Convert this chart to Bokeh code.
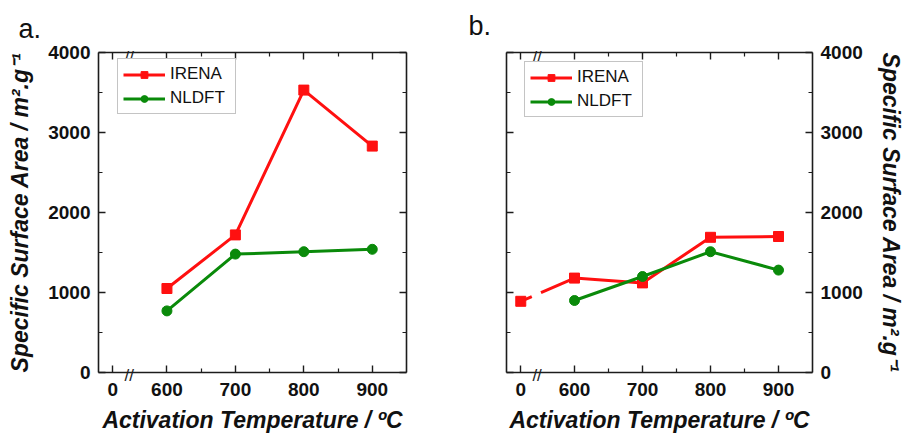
from bokeh.plotting import figure
from bokeh.models import LinearAxis, FixedTicker, Legend, LegendItem, Title, Range1d
from bokeh.layouts import row
from bokeh.embed import file_html
from bokeh.resources import INLINE

# Panel a: specific surface area vs activation temperature
temps_a = [600, 700, 800, 900]
irena_a = [1050, 1720, 3530, 2830]
nldft_a = [770, 1480, 1510, 1540]

# Panel b: includes the non-activated sample (0 °C)
temps_b_irena = [0, 600, 700, 800, 900]
irena_b = [890, 1180, 1120, 1690, 1700]
temps_b_nldft = [600, 700, 800, 900]
nldft_b = [900, 1200, 1510, 1280]

x_tick_values = [0, 600, 700, 800, 900]
x_minor_values = [650, 750, 850]
y_tick_values = [0, 1000, 2000, 3000, 4000]
y_minor_values = [500, 1500, 2500, 3500]

# Axis-break layout: the "0" sample sits left of the break marks
X_START, X_END = 500, 950
ZERO_POS = 521
BREAK_POS = 545

FONT = "Liberation Sans"
RED = "#ff1010"
GREEN = "#0a8a0a"
AXIS_COLOR = "#1c1c1c"
# standoffs that pull the "//" marks onto the axis lines
BREAK_SHIFT = {"below": -7, "above": -14}


def xpos(t):
    return ZERO_POS if t == 0 else t


def line_axis(ticks, minor):
    """Axis line with inward ticks and no labels."""
    ax = LinearAxis(ticker=FixedTicker(ticks=ticks, minor_ticks=minor))
    ax.axis_line_width = 1.6
    ax.axis_line_color = AXIS_COLOR
    ax.major_tick_line_color = AXIS_COLOR
    ax.minor_tick_line_color = AXIS_COLOR
    ax.major_tick_line_width = 1.4
    ax.minor_tick_line_width = 1.2
    ax.major_tick_in = 7
    ax.major_tick_out = 0
    ax.minor_tick_in = 4
    ax.minor_tick_out = 0
    ax.major_label_text_font_size = "0px"
    ax.major_label_text_color = None
    ax.major_label_standoff = 0
    return ax


def label_axis(ticks, standoff, overrides=None, title=None, title_standoff=0):
    """Tick labels (and axis title) only, without line or ticks."""
    ax = LinearAxis(ticker=FixedTicker(ticks=ticks, minor_ticks=[]))
    ax.axis_line_color = None
    ax.major_tick_line_color = None
    ax.minor_tick_line_color = None
    ax.major_tick_in = 0
    ax.major_tick_out = 0
    ax.minor_tick_in = 0
    ax.minor_tick_out = 0
    if overrides:
        ax.major_label_overrides = overrides
    ax.major_label_text_font = FONT
    ax.major_label_text_font_style = "bold"
    ax.major_label_text_font_size = "19px"
    ax.major_label_text_color = "#111111"
    ax.major_label_standoff = standoff
    if title:
        ax.axis_label = title
        ax.axis_label_text_font = FONT
        ax.axis_label_text_font_style = "bold italic"
        ax.axis_label_text_font_size = "23px"
        ax.axis_label_text_color = "#111111"
        ax.axis_label_standoff = title_standoff
    return ax


def break_axis(side):
    """'//' axis-break mark laid over the axis line."""
    ax = LinearAxis(ticker=FixedTicker(ticks=[BREAK_POS], minor_ticks=[]))
    ax.axis_line_color = None
    ax.major_tick_line_color = None
    ax.minor_tick_line_color = None
    ax.major_tick_in = 0
    ax.major_tick_out = 0
    ax.minor_tick_in = 0
    ax.minor_tick_out = 0
    ax.major_label_overrides = {BREAK_POS: "//"}
    ax.major_label_text_font = FONT
    ax.major_label_text_font_style = "normal"
    ax.major_label_text_font_size = "17px"
    ax.major_label_text_color = AXIS_COLOR
    ax.major_label_standoff = BREAK_SHIFT[side]
    return ax


def make_panel(letter, width, borders, title_offset, title_standoff, y_label_side,
               x_label_standoff, x_title_standoff, irena_x, irena_y, nldft_x,
               nldft_y, legend_loc, broken_first):
    left, right, top, bottom = borders
    p = figure(width=width, height=437,
               x_range=Range1d(X_START, X_END), y_range=Range1d(0, 4000),
               output_backend="svg", toolbar_location=None,
               x_axis_location=None, y_axis_location=None,
               min_border_left=left, min_border_right=right,
               min_border_top=top, min_border_bottom=bottom)
    p.outline_line_color = None
    p.xgrid.visible = False
    p.ygrid.visible = False
    p.background_fill_color = "white"
    p.border_fill_color = "white"

    xt = [xpos(t) for t in x_tick_values]

    # bottom: line + ticks, break mark, then labels and title
    p.add_layout(line_axis(xt, x_minor_values), "below")
    p.add_layout(break_axis("below"), "below")
    p.add_layout(label_axis(xt, x_label_standoff, {ZERO_POS: "0"},
                            "Activation Temperature / \u00baC", x_title_standoff),
                 "below")
    # top: line + ticks and break mark
    p.add_layout(line_axis(xt, x_minor_values), "above")
    p.add_layout(break_axis("above"), "above")

    y_label = "Specific Surface Area / m\u00b2.g\u207b\u00b9"
    p.add_layout(line_axis(y_tick_values, y_minor_values), "left")
    p.add_layout(line_axis(y_tick_values, y_minor_values), "right")
    p.add_layout(label_axis(y_tick_values, 8, None, y_label, 12), y_label_side)

    p.add_layout(Title(text=letter, align="left", offset=title_offset,
                       text_font=FONT, text_font_style="normal",
                       text_font_size="27px", text_color="#111111",
                       standoff=title_standoff), "above")

    ix = [xpos(t) for t in irena_x]
    nx = [xpos(t) for t in nldft_x]

    if broken_first:
        # segment crossing the axis break is interrupted
        p.line(ix[:2], irena_y[:2], line_color=RED, line_width=3,
               line_dash="12 10 80")
        l_irena = p.line(ix[1:], irena_y[1:], line_color=RED, line_width=3)
    else:
        l_irena = p.line(ix, irena_y, line_color=RED, line_width=3)
    s_irena = p.scatter(ix, irena_y, marker="square", size=10,
                        fill_color=RED, line_color=RED)
    l_nldft = p.line(nx, nldft_y, line_color=GREEN, line_width=3)
    s_nldft = p.scatter(nx, nldft_y, marker="circle", size=10,
                        fill_color=GREEN, line_color=GREEN)

    legend = Legend(items=[
        LegendItem(label="IRENA", renderers=[l_irena, s_irena]),
        LegendItem(label="NLDFT", renderers=[l_nldft, s_nldft]),
    ], location=legend_loc)
    legend.label_text_font = FONT
    legend.label_text_font_size = "17px"
    legend.label_text_color = "#111111"
    legend.border_line_color = "#8a8a8a"
    legend.border_line_width = 1.2
    legend.padding = 5
    legend.spacing = 4
    legend.glyph_width = 42
    legend.glyph_height = 17
    legend.label_height = 17
    legend.label_standoff = 5
    legend.label_width = 60
    legend.background_fill_alpha = 1
    p.add_layout(legend)
    return p


pa = make_panel("a.", 453, (98, 47, 48, 65), -80, 2, "left", -5, 8,
                temps_a, irena_a, temps_a, nldft_a, (19, 258), False)
pb = make_panel("b.", 453, (53, 93, 52, 65), -38, 8, "right", -5, 8,
                temps_b_irena, irena_b, temps_b_nldft, nldft_b, (18, 255), True)

layout = row(pa, pb)
open("out.html", "w").write(file_html(layout, INLINE))
